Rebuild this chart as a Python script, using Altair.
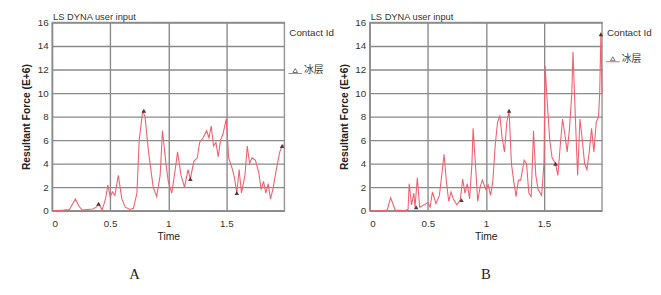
import altair as alt
import pandas as pd

# ---- data ----
TIME_A = [0, 0.05, 0.1, 0.15, 0.2, 0.23, 0.26, 0.3, 0.35, 0.38, 0.4, 0.43, 0.46, 0.48, 0.5,
          0.52, 0.54, 0.57, 0.6, 0.63, 0.67, 0.7, 0.73, 0.75, 0.78, 0.8, 0.83, 0.87, 0.9,
          0.93, 0.95, 0.98, 1.0, 1.03, 1.06, 1.08, 1.11, 1.14, 1.17, 1.19, 1.22, 1.25, 1.27,
          1.3, 1.33, 1.35, 1.37, 1.39, 1.41, 1.43, 1.45, 1.47, 1.5, 1.52, 1.55, 1.57, 1.59,
          1.61, 1.63, 1.66, 1.68, 1.7, 1.72, 1.75, 1.78, 1.8, 1.82, 1.84, 1.86, 1.88, 1.9,
          1.93, 1.96, 1.98, 2.0]
FORCE_A = [0, 0.02, 0.05, 0.1, 1.0, 0.4, 0.05, 0.1, 0.15, 0.3, 0.6, 0.05, 1.0, 2.2, 1.2,
           1.6, 1.3, 3.0, 1.0, 0.3, 0.1, 0.2, 1.5, 6.0, 8.5, 8.0, 5.0, 2.0, 1.2,
           3.0, 6.8, 4.0, 2.5, 1.5, 3.5, 5.0, 3.0, 2.0, 3.5, 2.7, 4.2, 4.5, 5.8,
           6.2, 6.8, 6.2, 7.2, 5.5, 5.8, 4.6, 6.0, 6.5, 7.8, 4.5, 3.6, 2.8, 1.5,
           3.5, 1.5, 3.0, 5.5, 4.0, 4.5, 4.3, 3.2, 1.8, 2.5, 1.5, 2.3, 1.0, 1.8,
           3.5, 5.0, 5.5, 5.6]

TIME_B = [0, 0.1, 0.15, 0.18, 0.22, 0.3, 0.33, 0.34, 0.36, 0.38, 0.39, 0.41, 0.43, 0.47,
          0.5, 0.52, 0.54, 0.57, 0.6, 0.62, 0.64, 0.66, 0.68, 0.7, 0.72, 0.75, 0.78, 0.8,
          0.82, 0.84, 0.86, 0.88, 0.89, 0.91, 0.93, 0.95, 0.97, 1.0, 1.02, 1.04, 1.06, 1.08,
          1.1, 1.12, 1.14, 1.16, 1.18, 1.2, 1.22, 1.24, 1.26, 1.28, 1.3, 1.33, 1.35, 1.37,
          1.39, 1.41, 1.43, 1.45, 1.48, 1.5, 1.51, 1.53, 1.55, 1.57, 1.6, 1.62, 1.64, 1.66,
          1.68, 1.7, 1.72, 1.74, 1.75, 1.77, 1.79, 1.81, 1.83, 1.85, 1.87, 1.89, 1.91, 1.93,
          1.95, 1.97, 1.98, 1.99, 2.0]
FORCE_B = [0, 0, 0.05, 1.1, 0.05, 0.02, 0.1, 2.3, 0.5, 1.5, 0.3, 2.8, 0.3, 0.5,
           0.7, 0.3, 1.6, 0.6, 1.3, 3.0, 4.8, 2.5, 0.8, 1.6, 1.0, 0.5, 0.9, 2.7,
           1.5, 2.3, 1.0, 4.0, 7.0, 4.0, 0.8, 2.0, 2.6, 1.8, 2.2, 1.3, 2.5, 5.5,
           7.5, 8.1, 6.2, 5.0, 7.5, 8.5, 4.0, 2.5, 1.2, 2.6, 2.6, 4.3, 4.0, 1.5,
           1.2, 6.8, 3.0, 1.8, 1.3, 4.0, 12.3, 9.0, 6.0, 4.5, 4.0, 3.0, 5.5, 7.8,
           6.5, 5.0, 7.0, 10.0, 13.5, 8.0, 3.0, 7.8, 6.0, 4.0, 3.5, 5.0, 7.0, 5.0,
           7.5, 8.0, 10.0, 15.0, 10.0]

MARK_T_A = [0.4, 0.79, 1.19, 1.59, 1.98]
MARK_F_A = [0.6, 8.5, 2.7, 1.5, 5.5]
MARK_T_B = [0.4, 0.79, 1.2, 1.6, 1.99]
MARK_F_B = [0.3, 0.9, 8.5, 4.0, 15.0]

TITLE = "LS DYNA user input"
X_TITLE = "Time"
Y_TITLE = "Resultant Force (E+6)"
LEGEND_TITLE = "Contact Id"
SERIES_NAME = "冰层"
X_TICKS = [0, 0.5, 1, 1.5]
Y_TICKS = [0, 2, 4, 6, 8, 10, 12, 14, 16]
PANEL_LABELS = ["A", "B"]

LINE_COLOR = "#f2606e"
W, H = 237, 192


def panel(times, forces, mt, mf, label, leg_dy, lab_dx):
    df = pd.DataFrame({"t": times, "f": forces})
    dm = pd.DataFrame({"t": mt, "f": mf})
    one = pd.DataFrame({"title": [LEGEND_TITLE], "name": [SERIES_NAME],
                        "label": [label], "head": [TITLE]})

    x = alt.X("t:Q", title=X_TITLE, scale=alt.Scale(domain=[0, 2], nice=False),
              axis=alt.Axis(values=X_TICKS, format="~g"))
    y = alt.Y("f:Q", title=Y_TITLE, scale=alt.Scale(domain=[0, 16], nice=False),
              axis=alt.Axis(values=Y_TICKS, labelOverlap=False))

    line = alt.Chart(df).mark_line(color=LINE_COLOR, strokeWidth=1.1).encode(x=x, y=y)
    pts = alt.Chart(dm).mark_point(shape="triangle-up", filled=True, color="#3a2a2a",
                                   size=22, opacity=0.9).encode(x=x, y=y)

    base = alt.Chart(one)
    head = base.mark_text(align="left", baseline="alphabetic", fontSize=9.5,
                          font="Liberation Sans", color="#333").encode(
        text="head:N", x=alt.value(1), y=alt.value(-3))
    leg_title = base.mark_text(align="left", baseline="middle", fontSize=10,
                               font="Liberation Sans", color="#333").encode(
        text="title:N", x=alt.value(W + 5), y=alt.value(11))
    leg_sym = base.mark_point(shape="triangle-up", filled=False, color="#333",
                              size=22, strokeWidth=1).encode(
        x=alt.value(W + 11), y=alt.value(leg_dy))
    leg_line = base.mark_rule(color=LINE_COLOR, strokeWidth=1).encode(
        x=alt.value(W + 4), x2=alt.value(W + 18), y=alt.value(leg_dy + 3))
    leg_name = base.mark_text(align="left", baseline="middle", fontSize=10,
                              font="Noto Sans CJK SC", color="#333").encode(
        text="name:N", x=alt.value(W + 20), y=alt.value(leg_dy))
    bottom = base.mark_text(align="center", baseline="middle", fontSize=15,
                            font="Liberation Serif", color="#222").encode(
        text="label:N", x=alt.value(lab_dx), y=alt.value(H + 65))

    return alt.layer(line, pts, head, leg_title, leg_sym, leg_line, leg_name, bottom).properties(
        width=W, height=H,
    )


pa = panel(TIME_A, FORCE_A, MARK_T_A, MARK_F_A, PANEL_LABELS[0], 49, 84)
pb = panel(TIME_B, FORCE_B, MARK_T_B, MARK_F_B, PANEL_LABELS[1], 37, W / 2)

chart = alt.hconcat(pa, pb, spacing=3).properties(
    padding={"left": 13, "top": 0, "right": 0, "bottom": 0}
).configure_view(
    stroke="#999", strokeWidth=1.5
).configure_axis(
    grid=True, gridColor="#8a8a8a", gridWidth=1.4, domain=False, ticks=False,
    labelFont="Liberation Sans", labelFontSize=10, labelColor="#333",
    titleFont="Liberation Sans", titleFontSize=10.5, titleColor="#222",
).configure_axisY(
    titleFontWeight="bold", titlePadding=6, labelPadding=4
).configure_axisX(
    titleFontWeight="normal", titlePadding=3, labelPadding=8
)

chart.save("out.html", embed_options={"renderer": "svg", "actions": False})
